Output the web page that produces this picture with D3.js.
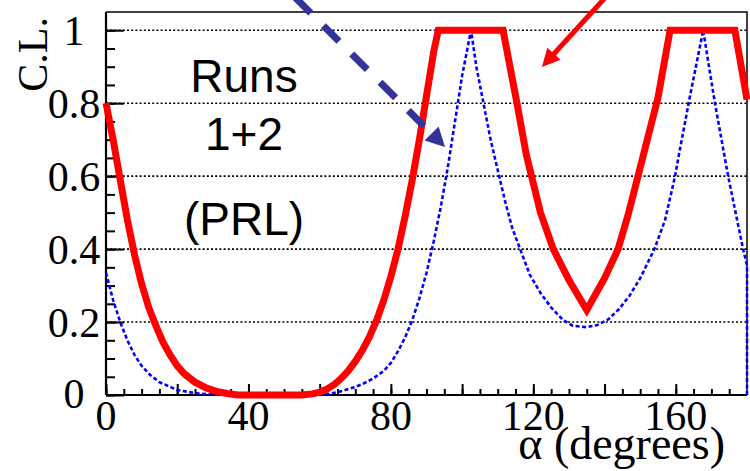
<!DOCTYPE html>
<html>
<head>
<meta charset="utf-8">
<script src="https://cdn.jsdelivr.net/npm/d3@7"></script>
<style>
  body { margin: 0; background: #fff; }
  svg { display: block; }
</style>
</head>
<body>
<script>

// red thick curve: alpha (deg) vs C.L.
var redAlpha = [0, 2, 4, 6, 8, 10, 12, 14, 16, 18, 20, 22, 25, 28, 31, 34, 37,
  55, 58, 60, 62, 64, 66, 68, 70, 72, 74, 76, 78, 80, 82, 84, 86, 88, 90, 92, 93.3,
  111.5, 115.4, 118, 119.5, 122, 125.6, 130, 135, 140, 143.8, 146.5, 149.4, 152, 155, 158.4,
  176.6, 180]
var redCL = [0.80, 0.70, 0.59, 0.48, 0.385, 0.305, 0.24, 0.19, 0.145, 0.11, 0.08, 0.058, 0.035, 0.02, 0.01, 0.004, 0,
  0, 0.003, 0.008, 0.016, 0.028, 0.045, 0.066, 0.092, 0.123, 0.16, 0.205, 0.26, 0.325, 0.40, 0.49, 0.59, 0.70, 0.82, 0.94, 1.0,
  1.0, 0.8, 0.66, 0.6, 0.5, 0.4, 0.315, 0.233, 0.32, 0.4, 0.49, 0.6, 0.70, 0.815, 1.0,
  1.0, 0.81]

// blue dotted curve
var blueAlpha = [0, 2, 4, 6, 8, 10, 12.4, 15, 20, 25, 30, 35,
  60, 63, 66, 70, 72, 75, 78, 80, 82, 84, 86, 88, 90, 92, 94, 96, 98, 100, 102.5,
  104, 106, 108, 110.4, 112, 114, 116.3, 119, 122, 125, 128.4, 131, 135, 138, 141, 144, 147, 150,
  154, 157, 159.8, 161, 164, 167.7, 169, 171, 174.7, 178.9, 180, 180]
var blueCL = [0.335, 0.26, 0.2, 0.15, 0.11, 0.08, 0.055, 0.035, 0.014, 0.005, 0.001, 0,
  0, 0.004, 0.01, 0.022, 0.03, 0.045, 0.066, 0.088, 0.12, 0.158, 0.205, 0.265, 0.335, 0.42, 0.515, 0.625, 0.75, 0.875, 1.0,
  0.9, 0.8, 0.7, 0.6, 0.534, 0.46, 0.4, 0.33, 0.28, 0.24, 0.205, 0.19, 0.186, 0.192, 0.207, 0.235, 0.272, 0.32,
  0.4, 0.48, 0.6, 0.665, 0.82, 1.0, 0.92, 0.8, 0.6, 0.4, 0.356, 0]

var xLabelTicks = [0, 40, 80, 120, 160]
var yLabelTicks = [0, 0.2, 0.4, 0.6, 0.8, 1]
var gridValues = [0.2, 0.4, 0.6, 0.8, 1]

var notes = ["Runs", "1+2", "(PRL)"]

// arrows in data coords: [alpha0, cl0, alpha1, cl1]
var blueArrow = [53.1, 1.09, 95.2, 0.68]
var redArrow = [140.8, 1.096, 122.4, 0.899]

var W = 750, H = 471
var margin = {top: 12, right: 3, bottom: 76, left: 106}

var svg = d3.select("body").append("svg")
    .attr("width", W)
    .attr("height", H)

var x = d3.scaleLinear().domain([0, 180]).range([margin.left, W - margin.right])
var y = d3.scaleLinear().domain([0, 1.05]).range([H - margin.bottom, margin.top])

var serif = "'Liberation Serif', 'Times New Roman', serif"
var sans = "'Liberation Sans', Arial, sans-serif"

// dotted grid
svg.append("g").selectAll("line")
  .data(gridValues)
  .enter().append("line")
    .attr("x1", x(0)).attr("x2", x(180))
    .attr("y1", function(d) { return y(d) }).attr("y2", function(d) { return y(d) })
    .attr("stroke", "#000")
    .attr("stroke-width", 1.6)
    .attr("stroke-dasharray", "2,2.2")

// frame top + right
svg.append("path")
    .attr("d", "M" + x(0) + "," + y(1.05) + "H" + x(180) + "V" + y(0))
    .attr("fill", "none")
    .attr("stroke", "#000")
    .attr("stroke-width", 1.5)

// y axis: minor + major ticks
svg.append("g").attr("transform", "translate(" + x(0) + ",0)")
  .call(d3.axisRight(y).tickValues(d3.range(0, 1.0001, 0.05)).tickSize(9).tickFormat(""))
svg.append("g").attr("transform", "translate(" + x(0) + ",0)")
  .call(d3.axisRight(y).tickValues(yLabelTicks).tickSize(18).tickFormat(""))

// x axis ticks
svg.append("g").attr("transform", "translate(0," + y(0) + ")")
  .call(d3.axisTop(x).tickValues(d3.range(0, 180, 5)).tickSize(6).tickFormat(""))
svg.append("g").attr("transform", "translate(0," + y(0) + ")")
  .call(d3.axisTop(x).tickValues(d3.range(0, 180, 20)).tickSize(11).tickFormat(""))

svg.selectAll(".domain").remove()
svg.selectAll(".tick line").attr("stroke", "#000").attr("stroke-width", 2)

// axis lines
svg.append("line")
    .attr("x1", x(0)).attr("x2", x(0)).attr("y1", y(1.05)).attr("y2", y(0))
    .attr("stroke", "#000").attr("stroke-width", 2.2)
svg.append("line")
    .attr("x1", x(0)).attr("x2", x(180)).attr("y1", y(0)).attr("y2", y(0))
    .attr("stroke", "#000").attr("stroke-width", 2.2)

// tick labels
svg.append("g").selectAll("text")
  .data(yLabelTicks)
  .enter().append("text")
    .attr("x", 74)
    .attr("y", function(d) { return y(d) + (d === 0 ? 13 : 15) })
    .attr("text-anchor", "middle")
    .style("font-family", serif)
    .style("font-size", "42px")
    .text(function(d) { return d3.format("~g")(d) })

svg.append("g").selectAll("text")
  .data(xLabelTicks)
  .enter().append("text")
    .attr("x", function(d) { return x(d) })
    .attr("y", y(0) + 35)
    .attr("text-anchor", "middle")
    .style("font-family", serif)
    .style("font-size", "42px")
    .text(function(d) { return d })

// axis titles
svg.append("text")
    .attr("transform", "translate(47,17) rotate(-90)")
    .attr("text-anchor", "end")
    .style("font-family", serif)
    .style("font-size", "42px")
    .text("C.L.")

svg.append("text")
    .attr("x", 725)
    .attr("y", 459)
    .attr("text-anchor", "end")
    .style("font-family", serif)
    .style("font-size", "46px")
    .text("\u03b1 (degrees)")

// curves
var line = d3.line()
    .x(function(d) { return x(d[0]) })
    .y(function(d) { return y(d[1]) })

svg.append("path")
    .datum(d3.zip(blueAlpha, blueCL))
    .attr("d", line)
    .attr("fill", "none")
    .attr("stroke", "#0000ff")
    .attr("stroke-width", 2.6)
    .attr("stroke-dasharray", "4,2.5")

svg.append("path")
    .datum(d3.zip(redAlpha, redCL))
    .attr("d", line)
    .attr("fill", "none")
    .attr("stroke", "#ff0000")
    .attr("stroke-width", 7)
    .attr("stroke-linejoin", "miter")

// notes
var noteY = [92, 150, 235]
svg.append("g").selectAll("text")
  .data(notes)
  .enter().append("text")
    .attr("x", 244)
    .attr("y", function(d, i) { return noteY[i] })
    .attr("text-anchor", "middle")
    .style("font-family", sans)
    .style("font-size", "46px")
    .text(function(d) { return d })

// arrows
function drawArrow(a, color, width, dash, headLen, headHalf) {
  var x0 = x(a[0]), y0 = y(a[1]), x1 = x(a[2]), y1 = y(a[3])
  var dx = x1 - x0, dy = y1 - y0
  var len = Math.sqrt(dx*dx + dy*dy)
  var ux = dx/len, uy = dy/len
  var bx = x1 - ux*headLen, by = y1 - uy*headLen
  svg.append("line")
      .attr("x1", x0).attr("y1", y0)
      .attr("x2", bx + ux*2).attr("y2", by + uy*2)
      .attr("stroke", color)
      .attr("stroke-width", width)
      .attr("stroke-dasharray", dash)
  svg.append("path")
      .attr("d", "M" + x1 + "," + y1 +
        "L" + (bx - uy*headHalf) + "," + (by + ux*headHalf) +
        "L" + (bx + uy*headHalf) + "," + (by - ux*headHalf) + "Z")
      .attr("fill", color)
}

drawArrow(blueArrow, "#333399", 7, "22,18", 19, 10)
drawArrow(redArrow, "#ff0000", 5, null, 18, 9)

</script>
</body>
</html>
